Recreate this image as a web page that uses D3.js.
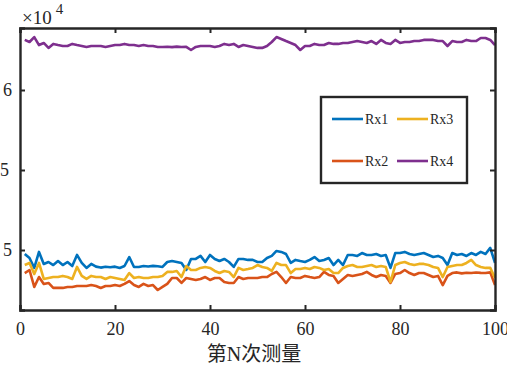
<!DOCTYPE html>
<html>
<head>
<meta charset="utf-8">
<script src="https://cdn.jsdelivr.net/npm/d3@7"></script>
<style>
  html, body { margin: 0; padding: 0; background: #fff; overflow: hidden; }
  #chart { width: 507px; height: 375px; }
  text { font-family: "Liberation Serif", "Noto Sans CJK SC", serif; fill: #262626; }
</style>
</head>
<body>
<div id="chart"></div>
<script>
// measurement index 1..100
var runs = d3.range(1, 101);

var rx1 = [49750, 49500, 48880, 49880, 49130, 49250, 49060, 49310, 49060, 49250,
           49000, 49690, 49190, 48880, 49130, 48960, 48900, 48950, 48920, 48960,
           48880, 49000, 49560, 48940, 48940, 49000, 48970, 49010, 48980, 48940,
           49250, 49310, 49250, 49190, 48750, 49440, 49440, 49630, 49250, 49690,
           49440, 49310, 49440, 49250, 48940, 49440, 49440, 49380, 49380, 49250,
           49250, 49500, 49630, 49940, 49880, 49750, 49190, 49380, 49310, 49250,
           49380, 49560, 49310, 49380, 49500, 49060, 49380, 49060, 49690, 49690,
           49630, 49810, 49690, 49690, 49750, 49630, 49690, 48880, 49810, 49810,
           49880, 49750, 49690, 49750, 49810, 49690, 49560, 49630, 49500, 49060,
           49810, 49690, 49750, 49630, 49810, 49690, 49880, 49750, 50130, 49190];

var rx2 = [48560, 48750, 47690, 48310, 47880, 47940, 47630, 47630, 47630, 47690,
           47690, 47750, 47750, 47750, 47810, 47750, 47630, 47750, 47750, 47810,
           47750, 47880, 48060, 47810, 47690, 47880, 47750, 47810, 47500, 47690,
           47880, 48250, 48250, 47940, 48250, 48190, 48130, 48190, 48310, 48130,
           48250, 48250, 48000, 47940, 47940, 48310, 48190, 48250, 48250, 48250,
           48310, 48310, 48500, 48630, 48310, 47940, 48310, 48250, 48250, 48380,
           48310, 48250, 48310, 48630, 48440, 48380, 47940, 48190, 48440, 48380,
           48440, 48500, 48630, 48440, 48310, 48440, 48380, 47940, 48500, 48560,
           48750, 48560, 48440, 48560, 48560, 48440, 48310, 48380, 47810, 48380,
           48560, 48600, 48540, 48580, 48560, 48590, 48570, 48560, 48600, 47810];

var rx3 = [49060, 49190, 48500, 49190, 48190, 48250, 48310, 48310, 48380, 48310,
           48190, 48940, 48380, 48190, 48380, 48310, 48310, 48190, 48310, 48250,
           48190, 48130, 48560, 48250, 48310, 48250, 48250, 48310, 48310, 48380,
           48630, 48630, 48690, 48310, 49000, 48750, 48750, 48880, 48940, 48880,
           48690, 48560, 48690, 48630, 48310, 48880, 48750, 48810, 48880, 49060,
           48940, 48880, 48690, 49190, 49060, 49060, 48560, 48810, 48810, 48880,
           48810, 48940, 48880, 48750, 48810, 48560, 48560, 48880, 49000, 49060,
           48940, 48940, 49000, 49060, 48940, 49000, 48940, 48000, 49060, 49190,
           49250, 49130, 49060, 49130, 49130, 49060, 48940, 48880, 48310, 48940,
           49000, 49060, 49060, 49190, 49380, 49060, 48940, 48880, 48880, 48250];

var rx4 = [63130, 63000, 63310, 62810, 62940, 62630, 62880, 62810, 62750, 62750,
           62880, 62810, 62750, 62690, 62750, 62750, 62750, 62690, 62750, 62810,
           62810, 62880, 62810, 62810, 62750, 62810, 62750, 62750, 62690, 62690,
           62700, 62680, 62710, 62690, 62700, 62500, 62690, 62750, 62750, 62750,
           62690, 62750, 62880, 62810, 62880, 62690, 62810, 62750, 62690, 62630,
           62630, 62750, 63000, 63310, 63190, 63060, 62940, 62810, 62500, 62750,
           62750, 62880, 62810, 62810, 62940, 62880, 62880, 62940, 62940, 63000,
           63060, 63000, 62940, 63060, 62880, 63130, 62940, 62880, 63130, 62940,
           63000, 63000, 63060, 63060, 63130, 63130, 63130, 63060, 63060, 62750,
           63060, 63000, 63000, 63130, 63060, 63060, 63250, 63250, 63130, 62810];

var seriesNames = ["Rx1", "Rx2", "Rx3", "Rx4"];
var seriesColors = ["#0072BD", "#D95319", "#EDB120", "#7E2F8E"];
var xTicks = [0, 20, 40, 60, 80, 100];
var yTicks = [50000, 55000, 60000];
var yDomain = [46250, 63875];
var xLabel = "第N次测量";

drawChart();

function drawChart() {
  var series = [rx1, rx2, rx3, rx4].map(function(vals, i) {
    return {
      name: seriesNames[i],
      color: seriesColors[i],
      values: vals.map(function(v, j) { return { n: runs[j], v: v }; })
    };
  });

  var width = 507, height = 375;
  var plotLeft = 20, plotRight = 495, plotTop = 28, plotBottom = 310;
  var axisColor = "#262626";

  var svg = d3.select("#chart").append("svg")
    .attr("width", width)
    .attr("height", height);

  /* Scale */
  var xScale = d3.scaleLinear().domain([0, 100]).range([plotLeft, plotRight]);
  var yScale = d3.scaleLinear().domain(yDomain).range([plotBottom, plotTop]);

  /* Lines */
  var line = d3.line()
    .x(d => xScale(d.n))
    .y(d => yScale(d.v));

  svg.append("g")
    .attr("class", "lines")
    .selectAll("path")
    .data(series).enter()
    .append("path")
    .attr("d", d => line(d.values))
    .attr("fill", "none")
    .attr("stroke", d => d.color)
    .attr("stroke-width", 2.6)
    .attr("stroke-linejoin", "round");

  /* Axes, ticks pointing inward, box on */
  var fmtY = function(d) { return d3.format("~g")(d / 1e4); };

  var xAxis = d3.axisBottom(xScale).tickValues(xTicks).tickSize(-5).tickPadding(12).tickFormat(d3.format("d"));
  var yAxis = d3.axisLeft(yScale).tickValues(yTicks).tickSize(-5).tickPadding(8).tickFormat(fmtY);
  var xTop = d3.axisTop(xScale).tickValues(xTicks).tickSize(-5).tickFormat("");
  var yRight = d3.axisRight(yScale).tickValues(yTicks).tickSize(-5).tickFormat("");

  function styleAxis(g) {
    g.select(".domain").attr("stroke", axisColor).attr("stroke-width", 2.4);
    g.selectAll(".tick line").attr("stroke", axisColor).attr("stroke-width", 2);
    g.selectAll(".tick text")
      .attr("fill", axisColor)
      .style("font-size", "18px")
      .style("font-family", "'Liberation Serif', serif");
  }

  svg.append("g").attr("transform", `translate(0, ${plotBottom})`).call(xAxis).call(styleAxis);
  var yG = svg.append("g").attr("transform", `translate(${plotLeft}, 0)`).call(yAxis).call(styleAxis);
  svg.append("g").attr("transform", `translate(0, ${plotTop})`).call(xTop).call(styleAxis);
  svg.append("g").attr("transform", `translate(${plotRight}, 0)`).call(yRight).call(styleAxis);

  // the figure is cropped on the left: only the last digit of "5.5" shows
  yG.selectAll(".tick text").filter(d => d % 10000 != 0).attr("dx", -3);

  /* Exponent */
  var expo = svg.append("text")
    .attr("x", 22)
    .attr("y", 24)
    .style("font-size", "19px");
  expo.append("tspan").text("×10");
  expo.append("tspan").attr("dx", 4).attr("dy", -10).style("font-size", "15px").text("4");

  /* X label */
  svg.append("text")
    .attr("x", 254)
    .attr("y", 361)
    .attr("text-anchor", "middle")
    .style("font-size", "20px")
    .text(xLabel);

  /* Legend */
  var legend = svg.append("g").attr("class", "legend");
  legend.append("rect")
    .attr("x", 321).attr("y", 97)
    .attr("width", 146).attr("height", 86)
    .attr("fill", "#fff")
    .attr("stroke", axisColor)
    .attr("stroke-width", 2.4);

  var colX = [332, 397];
  var rowY = [119, 161];
  var items = legend.selectAll(".item")
    .data(series).enter()
    .append("g")
    .attr("class", "item")
    .attr("transform", (d, i) => `translate(${colX[Math.floor(i / 2)]}, ${rowY[i % 2]})`);

  items.append("line")
    .attr("x1", 0).attr("x2", 31)
    .attr("y1", 0).attr("y2", 0)
    .attr("stroke", d => d.color)
    .attr("stroke-width", 2.6);

  items.append("text")
    .attr("x", 33)
    .attr("y", 5)
    .style("font-size", "14px")
    .text(d => d.name);
}
</script>
</body>
</html>
